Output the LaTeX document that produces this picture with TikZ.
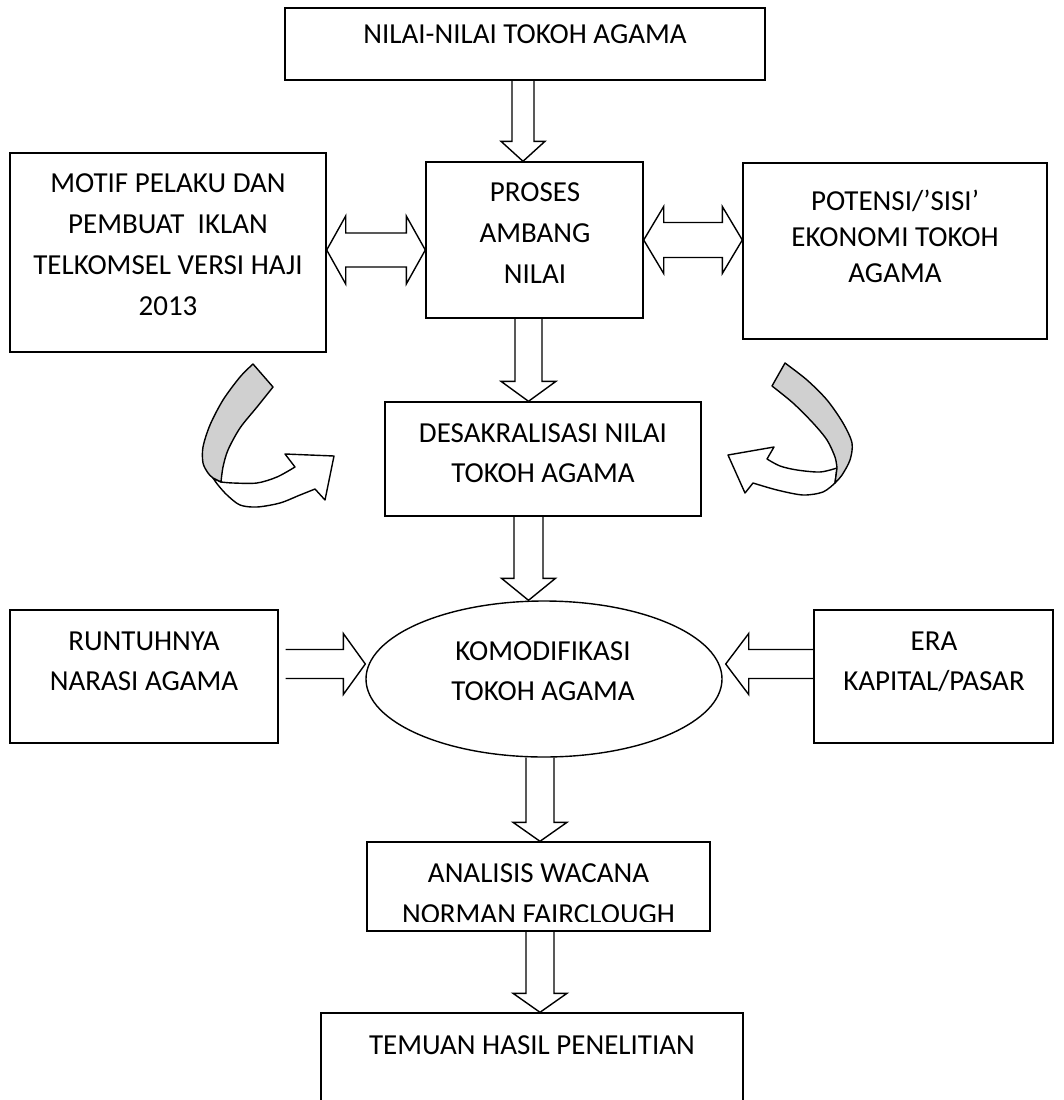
\documentclass[tikz,border=0pt]{standalone}
\usepackage{fontspec}
\setmainfont{Carlito}
\usetikzlibrary{calc,shapes.geometric}
\definecolor{bandgray}{RGB}{208,208,208}
\newcommand\downblk[5]{%
  \draw[blk] let \p1=#1, \p2=#2 in
    (\x1-#3pt,\y1) -- (\x1-#3pt,\y2+#5pt) -- (\x1-#4pt,\y2+#5pt) -- (\x1,\y2)
    -- (\x1+#4pt,\y2+#5pt) -- (\x1+#3pt,\y2+#5pt) -- (\x1+#3pt,\y1);}
\newcommand\dblblk[5]{%
  \draw[blk] let \p1=#1, \p2=#2 in
    (\x1,\y1) -- (\x1+#5pt,\y1+#4pt) -- (\x1+#5pt,\y1+#3pt) -- (\x2-#5pt,\y1+#3pt)
    -- (\x2-#5pt,\y1+#4pt) -- (\x2,\y1) -- (\x2-#5pt,\y1-#4pt) -- (\x2-#5pt,\y1-#3pt)
    -- (\x1+#5pt,\y1-#3pt) -- (\x1+#5pt,\y1-#4pt) -- cycle;}
\newcommand\rightblk[5]{%
  \draw[blk] let \p1=#1, \p2=#2 in
    (\x1,\y1+#3pt) -- (\x2-#5pt,\y1+#3pt) -- (\x2-#5pt,\y1+#4pt) -- (\x2,\y1)
    -- (\x2-#5pt,\y1-#4pt) -- (\x2-#5pt,\y1-#3pt) -- (\x1,\y1-#3pt);}
\newcommand\leftblk[5]{%
  \draw[blk] let \p1=#1, \p2=#2 in
    (\x1,\y1+#3pt) -- (\x2+#5pt,\y1+#3pt) -- (\x2+#5pt,\y1+#4pt) -- (\x2,\y1)
    -- (\x2+#5pt,\y1-#4pt) -- (\x2+#5pt,\y1-#3pt) -- (\x1,\y1-#3pt);}
\begin{document}
\begin{tikzpicture}[x=1pt,y=-1pt,
  box/.style={draw=black, line width=1.4pt, rectangle, inner sep=0},
  txt/.style={inner sep=0, align=center, anchor=north, font=\fontsize{29}{41}\selectfont},
  blk/.style={draw=black, line width=1.4pt, line join=miter},
  band/.style={draw=black, line width=1.4pt, line join=round}]
\useasboundingbox (0,0) rectangle (1064,1100);
\clip (0,0) rectangle (1064,1100);

% boxes
\node[box, minimum width=480, minimum height=72]  (top)      at (525,44) {};
\node[box, minimum width=316, minimum height=199] (motif)    at (168,252.5) {};
\node[box, minimum width=217, minimum height=156] (proses)   at (534.5,240) {};
\node[box, minimum width=304, minimum height=176] (potensi)  at (895,251) {};
\node[box, minimum width=316, minimum height=114] (desak)    at (543,459) {};
\node[draw=black, line width=1.4pt, ellipse, inner sep=0,
      minimum width=356, minimum height=156]        (kom)      at (544,679) {};
\node[box, minimum width=268, minimum height=133] (runt)     at (144,676.5) {};
\node[box, minimum width=239, minimum height=133] (era)      at (933.5,676.5) {};
\node[box, minimum width=343, minimum height=89]  (analisis) at (538.5,886.5) {};
\node[box, minimum width=422, minimum height=107] (temuan)   at (532,1066.5) {};

% texts
\node[txt] (top-t)     at (525,19)  {\rule{0pt}{24pt}NILAI-NILAI TOKOH AGAMA};
\node[txt] (motif-t)   at (168,168) {\rule{0pt}{24pt}MOTIF PELAKU DAN\\PEMBUAT\ \ IKLAN\\TELKOMSEL VERSI HAJI\\2013};
\node[txt] (proses-t)  at (535,177) {\rule{0pt}{24pt}PROSES\\AMBANG\\NILAI};
\node[txt, font=\fontsize{29}{36}\selectfont] (potensi-t) at (895,186) {\rule{0pt}{24pt}POTENSI/’SISI’\\EKONOMI TOKOH\\AGAMA};
\node[txt, font=\fontsize{29}{40}\selectfont] (desak-t) at (543,418) {\rule{0pt}{24pt}DESAKRALISASI NILAI\\TOKOH AGAMA};
\node[txt, font=\fontsize{29}{40}\selectfont] (kom-t)   at (543,636) {\rule{0pt}{24pt}KOMODIFIKASI\\TOKOH AGAMA};
\node[txt, font=\fontsize{29}{40}\selectfont] (runt-t)  at (144,626) {\rule{0pt}{24pt}RUNTUHNYA\\NARASI AGAMA};
\node[txt, font=\fontsize{29}{40}\selectfont] (era-t)   at (934,626) {\rule{0pt}{24pt}ERA\\KAPITAL/PASAR};
\begin{scope}
  \clip (367,842) rectangle (710,921);
  \node[txt] (analisis-t) at (538.5,858) {\rule{0pt}{24pt}ANALISIS WACANA\\NORMAN FAIRCLOUGH};
\end{scope}
\node[txt] (temuan-t)  at (532,1030) {\rule{0pt}{24pt}TEMUAN HASIL PENELITIAN};

% block arrows
\downblk{($(top.south)+(-2,0)$)}{(proses.north)}{11}{22}{20}
\downblk{($(proses.south)+(-6,0)$)}{(desak.north)}{13.5}{27.5}{20}
\downblk{($(desak.south)+(-14.5,0)$)}{(kom.north)}{14.5}{27}{22}
\downblk{($(kom.south)+(-4,0)$)}{(analisis.north)}{14}{27}{19}
\downblk{($(analisis.south)+(1.5,0)$)}{(temuan.north)}{14}{27}{19}
\dblblk{($(motif.east)+(0,-2.5)$)}{(proses.west)}{17}{34}{19}
\dblblk{(proses.east)}{(potensi.west)}{17.5}{33.5}{20}
\rightblk{($(runt.east)+(7,-12.5)$)}{(kom.west)}{14.5}{30.5}{22}
\leftblk{($(era.west)+(0,-12.5)$)}{($(kom.east)+(3,0)$)}{14.5}{30.5}{23}

% curved arrows (left)
\filldraw[band, fill=white]
  plot[smooth] coordinates {(221,482) (233,483) (257,483) (277,477) (295,467)}
  -- (285,454) -- (334,456) -- (325,500) -- (315,489)
  -- plot[smooth] coordinates {(315,489) (300,495) (280,503) (257,507) (240,505) (227,495) (218,485) (213,478)}
  -- cycle;
\filldraw[band, fill=bandgray]
  plot[smooth] coordinates {(253,364) (240,377) (223,400) (210,425) (203,447) (203,463) (208,473) (213,478)}
  -- plot[smooth] coordinates {(221,482) (223,467) (228,450) (240,428) (257,407) (273,387)}
  -- cycle;
% curved arrows (right)
\filldraw[band, fill=white]
  plot[smooth] coordinates {(837,468) (820,472) (797,470) (780,466) (767,459)}
  -- (774,447) -- (728,455) -- (745,493) -- (753,483)
  -- plot[smooth] coordinates {(753,483) (777,490) (803,495) (823,492) (835,483)}
  -- cycle;
\filldraw[band, fill=bandgray]
  plot[smooth] coordinates {(785,363) (807,380) (827,400) (843,423) (852,443) (850,460) (842,475) (835,483)}
  -- plot[smooth] coordinates {(837,468) (835,457) (827,440) (813,423) (793,403) (772,386)}
  -- cycle;
\end{tikzpicture}
\end{document}
